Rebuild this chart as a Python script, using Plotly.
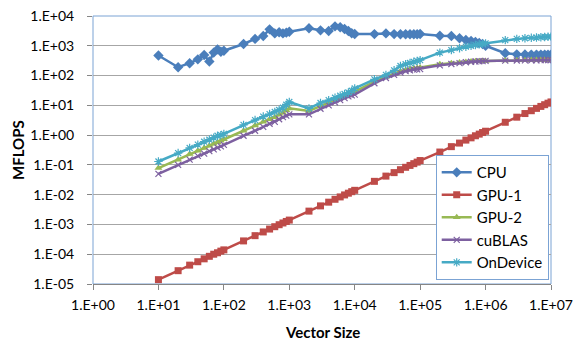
import plotly.graph_objects as go

vector_size = [10, 20, 30, 40, 50, 60, 70, 80, 90,
               100, 200, 300, 400, 500, 600, 700, 800, 900,
               1000, 2000, 3000, 4000, 5000, 6000, 7000, 8000, 9000,
               10000, 20000, 30000, 40000, 50000, 60000, 70000, 80000, 90000,
               100000, 200000, 300000, 400000, 500000, 600000, 700000, 800000, 900000,
               1000000, 2000000, 3000000, 4000000, 5000000, 6000000, 7000000, 8000000, 9000000,
               10000000]

cpu = [470, 190, 260, 350, 490, 295, 590, 760, 630,
       680, 1150, 1700, 2140, 3560, 2600, 2840, 2600, 2760,
       2960, 3870, 3300, 3140, 4490, 4170, 3660, 3150, 2620,
       2500, 2470, 2600, 2470, 2450, 2450, 2450, 2450, 2450,
       2500, 2180, 2140, 1780, 1560, 1450, 1340, 1250, 1150,
       1000, 560, 515, 510, 505, 505, 505, 505, 505,
       505]

gpu1 = [1.4e-5, 2.8e-5, 4.3e-5, 5.6e-5, 7.0e-5, 8.5e-5, 1.0e-4, 1.12e-4, 1.27e-4,
        1.4e-4, 2.8e-4, 4.2e-4, 5.6e-4, 7.0e-4, 8.4e-4, 9.8e-4, 1.12e-3, 1.26e-3,
        1.4e-3, 2.8e-3, 4.2e-3, 5.6e-3, 7.0e-3, 8.4e-3, 9.8e-3, 1.12e-2, 1.26e-2,
        1.4e-2, 2.8e-2, 4.2e-2, 5.5e-2, 6.9e-2, 8.3e-2, 9.6e-2, 0.11, 0.124,
        0.14, 0.27, 0.41, 0.54, 0.68, 0.81, 0.95, 1.08, 1.22,
        1.35, 2.7, 4.0, 5.3, 6.6, 7.9, 9.2, 10.5, 11.8,
        13.0]

gpu2 = [0.078, 0.15, 0.23, 0.30, 0.37, 0.44, 0.51, 0.58, 0.65,
        0.72, 1.4, 2.1, 2.8, 3.4, 4.0, 4.8, 5.6, 6.8,
        7.9, 6.5, 9.5, 12.5, 15, 18, 21, 24, 27,
        29, 63, 91, 115, 140, 155, 165, 172, 180,
        185, 240, 260, 275, 285, 295, 300, 305, 310,
        310, 320, 325, 325, 330, 330, 330, 330, 330,
        330]

cublas = [0.05, 0.10, 0.15, 0.20, 0.24, 0.29, 0.33, 0.38, 0.42,
          0.47, 0.95, 1.4, 1.9, 2.4, 2.8, 3.4, 4.0, 4.5,
          5.0, 5.0, 7.7, 10, 12.5, 15, 17.5, 20, 21.5,
          23, 55, 83, 105, 125, 140, 150, 158, 162,
          165, 220, 245, 262, 280, 290, 297, 302, 306,
          310, 318, 320, 322, 325, 325, 328, 328, 330,
          330]

ondevice = [0.13, 0.25, 0.37, 0.48, 0.60, 0.70, 0.82, 0.95, 1.0,
            1.1, 2.2, 3.2, 4.2, 5.1, 6.0, 7.0, 8.3, 10.5,
            13, 7.9, 12, 15, 18, 21, 24, 27, 31,
            37, 75, 105, 150, 210, 240, 265, 290, 310,
            330, 590, 720, 830, 930, 1000, 1060, 1120, 1160,
            1200, 1550, 1700, 1790, 1850, 1900, 1940, 1980, 2000,
            2030]

y_tickvals = [1e-5, 1e-4, 1e-3, 1e-2, 1e-1, 1e0, 1e1, 1e2, 1e3, 1e4]
y_ticktext = ["1.E-05", "1.E-04", "1.E-03", "1.E-02", "1.E-01",
              "1.E+00", "1.E+01", "1.E+02", "1.E+03", "1.E+04"]
x_tickvals = [1e0, 1e1, 1e2, 1e3, 1e4, 1e5, 1e6, 1e7]
x_ticktext = ["1.E+00", "1.E+01", "1.E+02", "1.E+03",
              "1.E+04", "1.E+05", "1.E+06", "1.E+07"]

series = [
    ("CPU", cpu, "#4A7EBB", "diamond", 8),
    ("GPU-1", gpu1, "#BE4B48", "square", 7),
    ("GPU-2", gpu2, "#98B954", "triangle-up", 7),
    ("cuBLAS", cublas, "#7D60A0", "x-thin", 6),
    ("OnDevice", ondevice, "#46AAC5", "asterisk", 7),
]

fig = go.Figure()
for name, vals, color, sym, sz in series:
    marker = dict(symbol=sym, size=sz, color=color, line=dict(color=color, width=0))
    if sym in ("x-thin", "asterisk"):
        marker["line"] = dict(color=color, width=1.2)
    fig.add_trace(go.Scatter(
        x=vector_size, y=vals, name=name, mode="lines+markers",
        line=dict(color=color, width=2.5), marker=marker))

FONT = "Lato"
fig.update_layout(
    width=574, height=342,
    margin=dict(l=93, r=23, t=16, b=58),
    paper_bgcolor="white", plot_bgcolor="white",
    font=dict(family=FONT, size=15, color="#000000"),
    showlegend=True,
    legend=dict(x=0.995, y=0.481, xanchor="right", yanchor="top",
                bordercolor="#7BA3D4", borderwidth=1, bgcolor="white",
                font=dict(family=FONT, size=15), itemwidth=30,
                tracegroupgap=0),
    xaxis=dict(type="log", range=[0, 7], tickvals=x_tickvals, ticktext=x_ticktext,
               showgrid=False, zeroline=False, showline=True, linecolor="#868686",
               linewidth=1, ticks="outside", ticklen=5, tickcolor="#868686",
               ticklabelstandoff=3, tickfont=dict(size=14), automargin=False,
               ticklabeloverflow="allow"),
    yaxis=dict(type="log", range=[-5, 4], tickvals=y_tickvals, ticktext=y_ticktext,
               showgrid=True, gridcolor="#A6A6A6", gridwidth=1, zeroline=False,
               showline=False, ticks="outside", ticklen=5, tickcolor="#868686",
               ticklabelstandoff=10, tickfont=dict(size=14), automargin=False),
    shapes=[dict(type="rect", xref="paper", yref="paper", x0=0, x1=1, y0=0, y1=1,
                 line=dict(color="#7BA3D4", width=1), layer="below")],
    annotations=[
        dict(text="<b>Vector Size</b>", xref="paper", yref="paper", x=0.5, y=0,
             yshift=-48, xanchor="center", yanchor="middle", showarrow=False,
             font=dict(size=15)),
        dict(text="<b>MFLOPS</b>", xref="paper", yref="paper", x=0, y=0.5,
             xshift=-75, textangle=-90, xanchor="center", yanchor="middle",
             showarrow=False, font=dict(size=15)),
    ],
)
fig.write_html("out.html")
